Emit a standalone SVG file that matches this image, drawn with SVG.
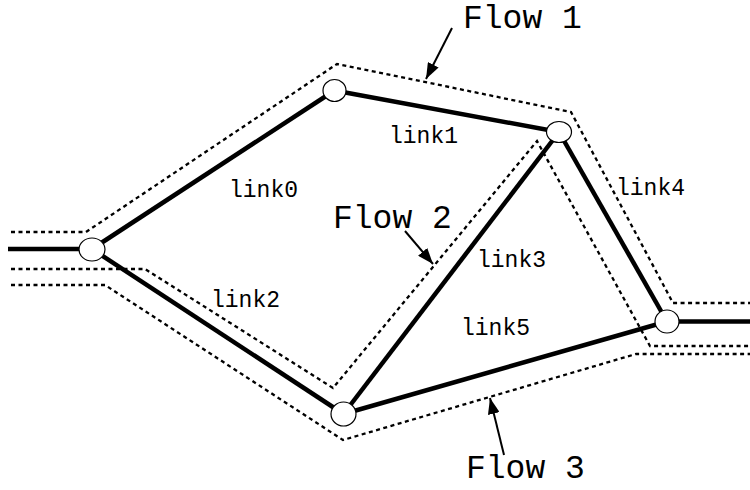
<svg xmlns="http://www.w3.org/2000/svg" width="750" height="490" viewBox="0 0 750 490">
<defs>
<style>
.link{stroke:#000;stroke-width:4.5;fill:none}
.flow{stroke:#000;stroke-width:2.3;stroke-dasharray:4 3.5;fill:none}
.node{fill:#fff;stroke:#000;stroke-width:1.2}
.lbl{font-family:"Liberation Mono","Courier New",monospace;font-size:23px;fill:#000}
.ftxt{font-family:"Liberation Mono","Courier New",monospace;font-size:33px;fill:#000}
.arr{stroke:#000;stroke-width:2;fill:none}
</style>
<marker id="ahb" viewBox="0 0 16 12" refX="16" refY="6" markerWidth="16" markerHeight="12" markerUnits="userSpaceOnUse" orient="auto">
<path d="M0,0 L16,6 L0,12 z" fill="#000"/>
</marker>
</defs>
<g id="connectors">
<polyline class="flow" points="11,232 86,232 337,64 571,112 673,303 750,303"/>
<polyline class="flow" points="11,269 145,269 333,388 537,141 650,346 750,346"/>
<polyline class="flow" points="11,285 105,285 343,440 636,354 750,354"/>
<line class="link" x1="8" y1="249" x2="92" y2="249"/>
<line class="link" x1="92" y1="249" x2="334.5" y2="90.5"/>
<line class="link" x1="334.5" y1="90.5" x2="559" y2="132"/>
<line class="link" x1="92" y1="249" x2="343.5" y2="414"/>
<line class="link" x1="559" y1="132" x2="343.5" y2="414"/>
<line class="link" x1="559" y1="132" x2="667" y2="321.5"/>
<line class="link" x1="343.5" y1="414" x2="667" y2="321.5"/>
<line class="link" x1="667" y1="321.5" x2="750" y2="321.5"/>
<line class="arr" x1="452" y1="28" x2="426" y2="79" marker-end="url(#ahb)"/>
<line class="arr" x1="405" y1="231" x2="433" y2="264" marker-end="url(#ahb)"/>
<line class="arr" x1="504" y1="455" x2="490" y2="398" marker-end="url(#ahb)"/>
</g>
<g id="nodeA"><ellipse class="node" cx="92" cy="249.5" rx="13" ry="11.5"/></g>
<g id="nodeB"><ellipse class="node" cx="334.5" cy="90.5" rx="11.5" ry="11"/></g>
<g id="nodeC"><ellipse class="node" cx="559" cy="132" rx="12.5" ry="10.5"/></g>
<g id="nodeD"><ellipse class="node" cx="343.5" cy="414" rx="12.5" ry="12"/></g>
<g id="nodeE"><ellipse class="node" cx="667" cy="321.5" rx="12" ry="11.5"/></g>
<g id="labels">
<text class="lbl" x="229" y="197">link0</text>
<text class="lbl" x="389" y="143">link1</text>
<text class="lbl" x="211" y="307">link2</text>
<text class="lbl" x="477" y="267">link3</text>
<text class="lbl" x="616" y="195">link4</text>
<text class="lbl" x="461" y="335">link5</text>
<text class="ftxt" x="463" y="28">Flow 1</text>
<text class="ftxt" x="333" y="228">Flow 2</text>
<text class="ftxt" x="466" y="478">Flow 3</text>
</g>
</svg>
